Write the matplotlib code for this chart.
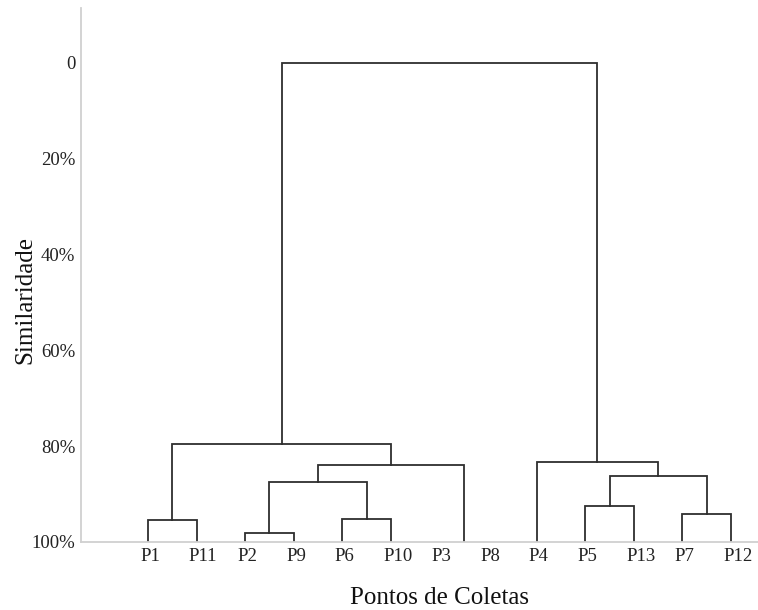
import matplotlib
matplotlib.use("Agg")
import matplotlib.pyplot as plt
from matplotlib.transforms import blended_transform_factory

# ---- data ----
leaves = ["P1", "P11", "P2", "P9", "P6", "P10", "P3", "P8", "P4", "P5", "P13", "P7", "P12"]
# merges: (node_a, node_b, similarity height %); leaves are 0..12, merged nodes 13..
merge_a = [6, 2, 0, 4, 11, 9, 14, 18, 19, 8, 15, 23]
merge_b = [7, 3, 1, 5, 12, 10, 16, 17, 13, 20, 21, 22]
merge_h = [100.0, 98.1, 95.5, 95.3, 94.1, 92.5, 87.5, 86.2, 84.0, 83.4, 79.6, 0.0]
yticks = [0, 20, 40, 60, 80, 100]
ytick_labels = ["0", "20%", "40%", "60%", "80%", "100%"]

plt.rcParams['font.family'] = ['Liberation Serif', 'DejaVu Serif']

fig = plt.figure(figsize=(7.58, 6.10), dpi=100)
ax = fig.add_axes([81 / 758, 68 / 610, 1 - 81 / 758, 534 / 610])

n = len(leaves)
xpos = {i: float(i) for i in range(n)}
ypos = {i: 100.0 for i in range(n)}
line_color = "#2e2e2e"
for k, (a, b, h) in enumerate(zip(merge_a, merge_b, merge_h)):
    xa, xb = xpos[a], xpos[b]
    ya, yb = ypos[a], ypos[b]
    if not (ya == h and yb == h):
        ax.plot([xa, xa, xb, xb], [ya, h, h, yb], color=line_color, lw=1.3,
                solid_joinstyle='miter', zorder=2)
    node = n + k
    xpos[node] = (xa + xb) / 2
    ypos[node] = h

ax.set_xlim(-1.379, 12.556)
ax.set_ylim(100, -11.4)

for s in ["top", "right"]:
    ax.spines[s].set_visible(False)
for s in ["left", "bottom"]:
    ax.spines[s].set_color("#d0d0d0")
    ax.spines[s].set_linewidth(1.3)
    ax.spines[s].set_zorder(3)

ax.set_xticks([])
ax.set_yticks(yticks)
ax.set_yticklabels(ytick_labels, fontsize=13.5, color="#222222")
ax.tick_params(axis='y', length=0, pad=4)

trans = blended_transform_factory(ax.transData, ax.transAxes)
for i, lab in enumerate(leaves):
    ax.text(i - 0.16, -0.028, lab, transform=trans, ha='left', va='center',
            fontsize=13.5, color="#222222")

fig.text(25 / 758, 310 / 610, "Similaridade", rotation=90, ha='center', va='center',
         fontsize=18, color="#111111")
fig.text(440 / 758, 12 / 610, "Pontos de Coletas", ha='center', va='center',
         fontsize=18, color="#111111")

fig.savefig("out.png", dpi=100)
